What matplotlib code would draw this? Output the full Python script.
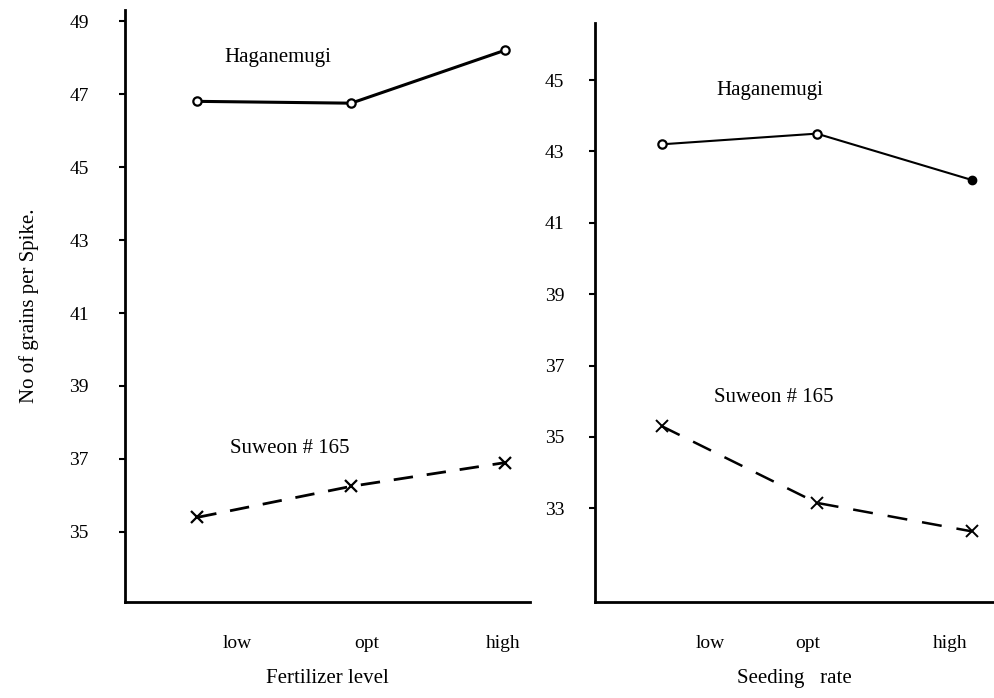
import matplotlib.pyplot as plt

# categories and values
levels = ['low', 'opt', 'high']
fert_hagane = [46.8, 46.75, 48.2]
fert_suweon = [35.4, 36.25, 36.9]
seed_hagane = [43.2, 43.5, 42.2]
seed_suweon = [35.3, 33.15, 32.35]
fert_yticks = [35, 37, 39, 41, 43, 45, 47, 49]
seed_yticks = [33, 35, 37, 39, 41, 43, 45]

plt.rcParams['font.family'] = ['Liberation Serif', 'DejaVu Serif']

fig = plt.figure(figsize=(9.94, 6.98), dpi=100)
ax1 = fig.add_axes([0.1258, 0.1375, 0.407, 0.848])
ax2 = fig.add_axes([0.5986, 0.1375, 0.401, 0.8295])

x = range(len(levels))


def style(ax, xlim, ylim, yticks, label_pos, pad):
    ax.set_xlim(*xlim)
    ax.set_ylim(*ylim)
    ax.set_yticks(yticks)
    ax.set_yticklabels([str(t) for t in yticks], fontsize=14)
    ax.set_xticks(label_pos)
    ax.set_xticklabels(levels, fontsize=14)
    ax.tick_params(axis='y', direction='out', length=4, width=1.5, pad=pad)
    ax.tick_params(axis='x', length=0, pad=24)
    for s in ['top', 'right']:
        ax.spines[s].set_visible(False)
    for s in ['left', 'bottom']:
        ax.spines[s].set_linewidth(2)
        ax.spines[s].set_color('black')


# left panel: fertilizer level
ax1.plot(x, fert_hagane, '-', color='black', lw=2.2, marker='o', ms=6,
         mfc='white', mec='black', mew=1.6)
ax1.plot(x, fert_suweon, '--', color='black', lw=2, dashes=(7, 5), marker='x',
         ms=9, mew=1.6)
style(ax1, (-0.47, 2.16), (33.08, 49.3), fert_yticks, [0.26, 1.1, 1.99], 22)
ax1.text(0.52, 48.0, 'Haganemugi', fontsize=15, ha='center', va='center')
ax1.text(0.6, 37.3, 'Suweon # 165', fontsize=15, ha='center', va='center')
ax1.set_xlabel('Fertilizer level', fontsize=15, labelpad=12)
ax1.set_ylabel('No of grains per Spike.', fontsize=15, labelpad=22)

# right panel: seeding rate
ax2.plot(x, seed_hagane, '-', color='black', lw=1.5, marker='o', ms=6,
         mfc='white', mec='black', mew=1.6, markevery=[0, 1])
ax2.plot([x[2]], [seed_hagane[2]], 'o', color='black', ms=6)
ax2.plot(x, seed_suweon, '--', color='black', lw=1.8, dashes=(8, 6), marker='x',
         ms=9, mew=1.4)
style(ax2, (-0.43, 2.14), (30.37, 46.6), seed_yticks, [0.31, 0.94, 1.86], 18)
ax2.text(0.7, 44.7, 'Haganemugi', fontsize=15, ha='center', va='center')
ax2.text(0.72, 36.1, 'Suweon # 165', fontsize=15, ha='center', va='center')
ax2.set_xlabel('Seeding   rate', fontsize=15, labelpad=12)

fig.savefig('out.png', dpi=100)
